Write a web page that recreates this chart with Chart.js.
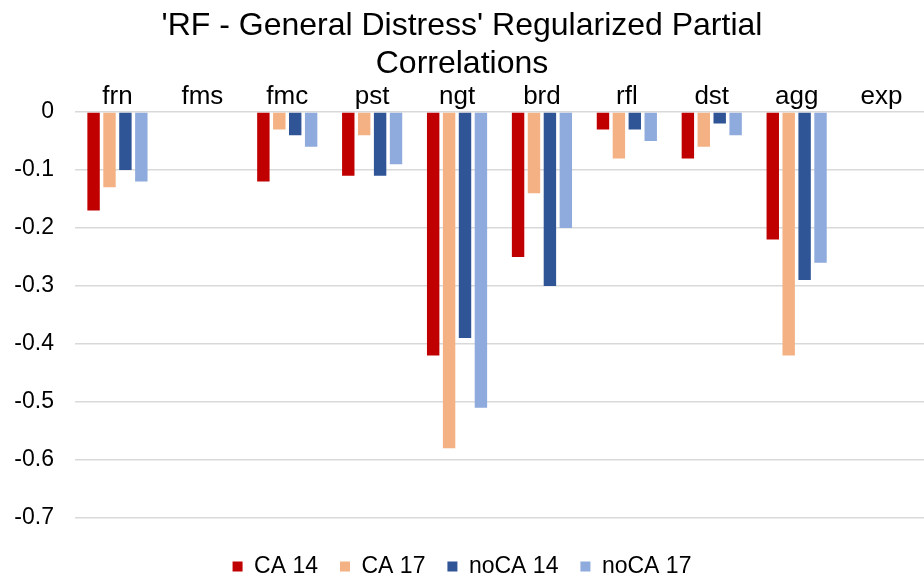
<!DOCTYPE html>
<html>
<head>
<meta charset="utf-8">
<script src="https://cdn.jsdelivr.net/npm/chart.js@4/dist/chart.umd.min.js"></script>
<style>
  body { margin: 0; background: #fff; }
  #wrap { width: 924px; height: 584px; }
</style>
</head>
<body>
<div id="wrap"><canvas id="chart" width="924" height="584"></canvas></div>
<script>
const categories = ["frn", "fms", "fmc", "pst", "ngt", "brd", "rfl", "dst", "agg", "exp"];
const seriesNames = ["CA 14", "CA 17", "noCA 14", "noCA 17"];
const ca14 = [-0.17, null, -0.12, -0.11, -0.42, -0.25, -0.03, -0.08, -0.22, null];
const ca17 = [-0.13, null, -0.03, -0.04, -0.58, -0.14, -0.08, -0.06, -0.42, null];
const noca14 = [-0.10, null, -0.04, -0.11, -0.39, -0.30, -0.03, -0.02, -0.29, null];
const noca17 = [-0.12, null, -0.06, -0.09, -0.51, -0.20, -0.05, -0.04, -0.26, null];
const colors = ["#c00000", "#f4b183", "#2f5597", "#8faadc"];

const allSeries = [ca14, ca17, noca14, noca17];

const ctx = document.getElementById('chart').getContext('2d');
Chart.defaults.font.family = "'Liberation Sans', Arial, sans-serif";
Chart.defaults.color = "#000";

new Chart(ctx, {
  type: "bar",
  data: {
    labels: categories,
    datasets: allSeries.map((vals, i) => ({
      label: seriesNames[i],
      data: vals,
      backgroundColor: colors[i],
      borderWidth: 0,
      categoryPercentage: 0.75,
      barPercentage: 0.78
    }))
  },
  options: {
    responsive: false,
    animation: false,
    layout: { padding: { left: 0, right: 0, top: 7, bottom: -4 } },
    plugins: {
      title: {
        display: true,
        text: ["'RF - General Distress' Regularized Partial", "Correlations"],
        font: { size: 32, weight: "normal" },
        lineHeight: 1.1,
        padding: { top: 0, bottom: -3 }
      },
      legend: {
        position: "bottom",
        // empty title just adds a little room above the legend items
        title: { display: true, text: "", font: { size: 1 }, padding: { top: 6, bottom: 8 } },
        labels: { boxWidth: 10, boxHeight: 10, font: { size: 23 }, padding: 22 }
      },
      tooltip: { enabled: false }
    },
    scales: {
      x: {
        position: "top",
        grid: { display: false, drawTicks: false },
        border: { display: false },
        ticks: { font: { size: 26 }, padding: 0 }
      },
      y: {
        min: -0.7,
        max: 0,
        afterFit: axis => { axis.width = 75; },
        ticks: {
          stepSize: 0.1,
          font: { size: 23 },
          padding: 21,
          callback: v => String(Math.round(v * 10) / 10)
        },
        grid: { color: "#d9d9d9", lineWidth: 1.5, drawTicks: false },
        border: { display: false }
      }
    }
  }
});
</script>
</body>
</html>
